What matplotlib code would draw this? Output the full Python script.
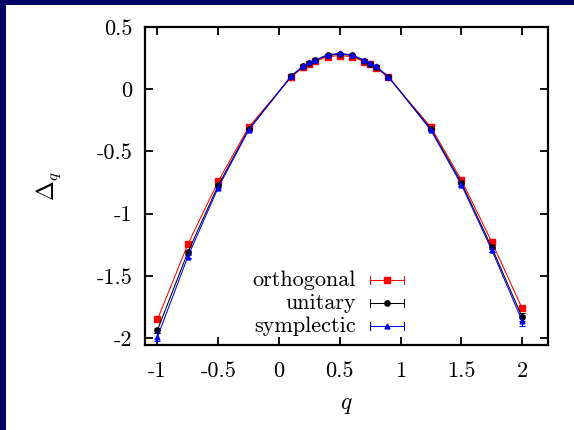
import matplotlib
matplotlib.use("Agg")
import matplotlib.pyplot as plt
from matplotlib.patches import Rectangle
from matplotlib.lines import Line2D

plt.rcParams['font.family'] = 'serif'
plt.rcParams['font.serif'] = ['cmr10']
plt.rcParams['mathtext.fontset'] = 'cm'
plt.rcParams['axes.unicode_minus'] = False
plt.rcParams['axes.formatter.use_mathtext'] = False

q = [-1, -0.75, -0.5, -0.25, 0.1, 0.2, 0.25, 0.3, 0.4, 0.5, 0.6, 0.7, 0.75, 0.8, 0.9, 1.25, 1.5, 1.75, 2]
orthogonal = [-1.85, -1.245, -0.74, -0.305, 0.098, 0.178, 0.205, 0.225, 0.262, 0.27, 0.262, 0.222, 0.2, 0.172, 0.095, -0.305, -0.728, -1.225, -1.76]
unitary = [-1.935, -1.31, -0.772, -0.322, 0.103, 0.184, 0.21, 0.232, 0.272, 0.282, 0.272, 0.23, 0.206, 0.178, 0.1, -0.32, -0.75, -1.27, -1.83]
symplectic = [-1.99, -1.345, -0.79, -0.33, 0.107, 0.188, 0.215, 0.236, 0.277, 0.288, 0.277, 0.234, 0.21, 0.183, 0.102, -0.33, -0.766, -1.29, -1.86]
err_orthogonal = [0.02, 0.012, 0.006, 0.003, 0.002, 0.002, 0.002, 0.002, 0.002, 0.002, 0.002, 0.002, 0.002, 0.002, 0.002, 0.003, 0.006, 0.012, 0.02]
err_unitary = [0.02, 0.012, 0.006, 0.003, 0.002, 0.002, 0.002, 0.002, 0.002, 0.002, 0.002, 0.002, 0.002, 0.002, 0.002, 0.003, 0.006, 0.015, 0.03]
err_symplectic = [0.03, 0.015, 0.007, 0.004, 0.002, 0.002, 0.002, 0.002, 0.002, 0.002, 0.002, 0.002, 0.002, 0.002, 0.002, 0.004, 0.008, 0.02, 0.045]
labels = ['orthogonal', 'unitary', 'symplectic']
xticks = [-1, -0.5, 0, 0.5, 1, 1.5, 2]
yticks = [0.5, 0, -0.5, -1, -1.5, -2]

W, H = 574, 430
fig = plt.figure(figsize=(W / 100, H / 100), dpi=100)
fig.patch.set_facecolor('#000066')
fig.patches.append(Rectangle((6 / W, 0), 1 - 6 / W, 1 - 5 / H, transform=fig.transFigure,
                             facecolor='white', edgecolor='none', zorder=-5))

ax = fig.add_axes([144.7 / W, 1 - 345 / H, (547.6 - 144.7) / W, (345 - 27) / H])
ax.set_zorder(1)

series = [
    (orthogonal, err_orthogonal, 'red', 's', 5),
    (unitary, err_unitary, 'black', 'o', 3.8),
    (symplectic, err_symplectic, 'blue', '^', 3.5),
]
for vals, errs, col, mk, ms in series:
    ax.errorbar(q, vals, yerr=errs, color=col, marker=mk, markersize=ms, linewidth=0.75,
                elinewidth=0.75, capsize=2.5, capthick=0.75)

ax.set_xlim(-1.105, 2.21)
ax.set_ylim(-2.055, 0.5)
ax.set_xticks(xticks)
ax.set_xticklabels([('%g' % t) for t in xticks])
ax.set_yticks(yticks)
ax.set_yticklabels([('%g' % t) for t in yticks])
ax.tick_params(direction='in', length=5.5, width=1.3, top=True, right=True, labelsize=16, pad=9)
ax.tick_params(axis='x', pad=12)
for s in ax.spines.values():
    s.set_linewidth(1.6)

ax.set_xlabel('$q$', fontsize=17, labelpad=9)
ax.set_ylabel(r'$\Delta_q$', fontsize=17, labelpad=24)

# legend (gnuplot style)
for i, ((vals, errs, col, mk, ms), lab) in enumerate(zip(series, labels)):
    yp = 1 - (280 + 23 * i) / H
    fig.text(356 / W, yp, lab, ha='right', va='center', fontsize=16, zorder=5)
    x0, x1 = 370 / W, 404 / W
    fig.add_artist(Line2D([x0, x1], [yp, yp], color=col, linewidth=0.75, transform=fig.transFigure, zorder=5))
    for xe in (x0, x1):
        fig.add_artist(Line2D([xe, xe], [yp - 4 / H, yp + 4 / H], color=col, linewidth=0.75,
                              transform=fig.transFigure, zorder=5))
    fig.add_artist(Line2D([(x0 + x1) / 2], [yp], color=col, marker=mk, markersize=ms,
                          linestyle='none', transform=fig.transFigure, zorder=5))

fig.savefig('out.png', dpi=100, facecolor=fig.get_facecolor())
